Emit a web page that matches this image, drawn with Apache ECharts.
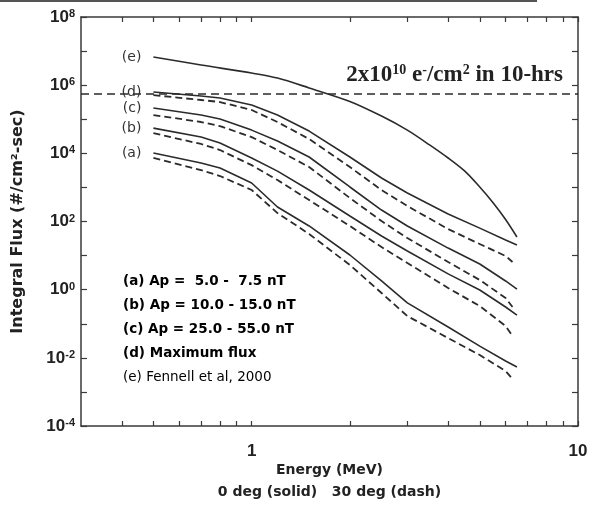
<!DOCTYPE html>
<html>
<head>
<meta charset="utf-8">
<script src="https://cdn.jsdelivr.net/npm/echarts@6/dist/echarts.min.js"></script>
<style>
  html, body { margin: 0; padding: 0; background: #fff; }
  #chart { width: 589px; height: 509px; }
</style>
</head>
<body>
<div id="chart"></div>
<script>
// Integral electron flux vs energy, log-log.
// Curves (a)-(d): 0 deg pitch angle solid, 30 deg dashed. (e): Fennell et al, 2000.

const energyE = [0.5, 0.7, 1.0, 1.2, 1.5, 2.0, 2.5, 3.0, 3.5, 4.0, 4.5, 5.0, 5.5, 6.0, 6.5];
const fluxE   = [6.7e6, 3.9e6, 2.27e6, 1.62e6, 8.3e5, 3.33e5, 1.24e5, 4.8e4, 1.8e4, 7.3e3, 3.0e3, 1.03e3, 350, 114, 35];

const energySolid = [0.5, 0.7, 0.8, 1.0, 1.2, 1.5, 2.0, 2.5, 3.0, 4.0, 5.0, 6.0, 6.5];
const energyDash  = [0.5, 0.7, 0.8, 1.0, 1.2, 1.5, 2.0, 2.5, 3.0, 4.0, 5.0, 6.0, 6.3];

const fluxDSolid = [6.3e5, 4.8e5, 4.2e5, 2.62e5, 1.33e5, 4.5e4, 7.8e3, 1.89e3, 685, 166, 64, 28.6, 20.4];
const fluxDDash  = [5.1e5, 3.67e5, 3.2e5, 1.87e5, 8.3e4, 2.63e4, 3.96e3, 840, 285, 60, 21.8, 9.7, 6.5];
const fluxCSolid = [2.14e5, 1.33e5, 1.02e5, 4.8e4, 2.3e4, 7.8e3, 1.03e3, 217, 74, 16.6, 5.65, 1.8, 1.04];
const fluxCDash  = [1.33e5, 8.3e4, 6.3e4, 3.0e4, 1.25e4, 3.97e3, 489, 103, 32.7, 6.5, 1.92, 0.57, 0.31];
const fluxBSolid = [5.5e4, 3.0e4, 2.0e4, 7.3e3, 3.0e3, 840, 145, 37.5, 13.6, 2.9, 0.98, 0.31, 0.18];
const fluxBDash  = [3.9e4, 1.88e4, 1.25e4, 4.5e3, 1.65e3, 427, 74, 17.8, 6.05, 1.12, 0.33, 0.086, 0.044];
const fluxASolid = [1.02e4, 5.2e3, 3.7e3, 1.35e3, 266, 74, 10.4, 1.8, 0.41, 0.080, 0.022, 0.0081, 0.0054];
const fluxADash  = [7.3e3, 3.2e3, 2.16e3, 840, 177, 43, 5.3, 0.80, 0.168, 0.038, 0.0121, 0.0041, 0.0024];

// 2x10^10 e-/cm^2 over 10 hours
const thresholdFlux = 5.56e5;

const xTickValues  = [0.4, 0.5, 0.6, 0.7, 0.8, 0.9, 1, 2, 3, 4, 5, 6, 7, 8, 9, 10];
const xLabelValues = [1, 10];
const yTickValues  = [1e-4, 1e-3, 1e-2, 1e-1, 1, 1e1, 1e2, 1e3, 1e4, 1e5, 1e6, 1e7, 1e8];
const yLabelValues = [1e-4, 1e-2, 1, 1e2, 1e4, 1e6, 1e8];

const legendLines = [
  '(a) Ap =  5.0 -  7.5 nT',
  '(b) Ap = 10.0 - 15.0 nT',
  '(c) Ap = 25.0 - 55.0 nT',
  '(d) Maximum flux'
];
const legendSource = '(e) Fennell et al, 2000';

const INK = '#2b2b2b';
const FONT = 'Liberation Sans, Arial, sans-serif';
const WIDE = 'DejaVu Sans, Verdana, sans-serif';
const SERIF = 'Liberation Serif, Times New Roman, serif';

function pairs(xs, ys, tag) {
  return xs.map((x, i) => {
    const item = { value: [x, ys[i]] };
    if (i === 0 && tag) {
      item.label = {
        show: true, formatter: tag, position: 'left', distance: 12,
        color: '#333', fontSize: 14, fontFamily: WIDE
      };
    }
    return item;
  });
}

function curve(name, xs, ys, dashed, tag, smooth) {
  return {
    name: name,
    type: 'line',
    data: pairs(xs, ys, tag),
    symbol: 'circle',
    symbolSize: 0,
    showSymbol: true,
    smooth: smooth || false,
    silent: true,
    animation: false,
    label: { show: false },
    lineStyle: {
      color: INK,
      width: dashed ? 1.8 : 1.6,
      type: dashed ? [7, 4] : 'solid'
    },
    z: dashed ? 2 : 3
  };
}

const chart = echarts.init(document.getElementById('chart'), null, { renderer: 'canvas' });

const axisLineStyle = { color: '#3a3a3a', width: 1.5 };
const tickStyle = { color: '#3a3a3a', width: 1.2 };

const series = [
  curve('e', energyE, fluxE, false, '(e)', 0.3),
  curve('d0', energySolid, fluxDSolid, false, '(d)'),
  curve('d30', energyDash, fluxDDash, true),
  curve('c0', energySolid, fluxCSolid, false, '(c)'),
  curve('c30', energyDash, fluxCDash, true),
  curve('b0', energySolid, fluxBSolid, false, '(b)'),
  curve('b30', energyDash, fluxBDash, true),
  curve('a0', energySolid, fluxASolid, false, '(a)'),
  curve('a30', energyDash, fluxADash, true)
];

series[0].markLine = {
  silent: true,
  symbol: 'none',
  animation: false,
  lineStyle: { color: INK, width: 1.5, type: [8, 5] },
  label: {
    show: true,
    position: 'insideEndTop',
    distance: [15, 7],
    formatter: '{t|2x10}{s|10}{t| e}{s|-}{t|/cm}{s|2}{t| in 10-hrs}',
    rich: {
      t: { fontFamily: SERIF, fontWeight: 'bold', fontSize: 23, color: '#222' },
      s: { fontFamily: SERIF, fontWeight: 'bold', fontSize: 14, color: '#222', verticalAlign: 'top' }
    }
  },
  data: [{ yAxis: thresholdFlux }]
};

chart.setOption({
  backgroundColor: '#ffffff',
  animation: false,
  grid: { left: 81, right: 11, top: 17, bottom: 83, outerBoundsMode: 'none', containLabel: false },
  xAxis: [
    {
      type: 'log', logBase: 10, min: 0.3, max: 10,
      name: 'Energy (MeV)\n0 deg (solid)   30 deg (dash)',
      nameLocation: 'middle', nameGap: 33, nameMoveOverlap: false,
      nameTextStyle: { fontFamily: WIDE, fontSize: 14, fontWeight: 'bold', color: '#222', lineHeight: 22 },
      axisLine: { show: true, lineStyle: axisLineStyle },
      axisTick: { show: true, inside: true, length: 5, customValues: xTickValues, lineStyle: tickStyle },
      minorTick: { show: false },
      axisLabel: {
        show: true, customValues: xLabelValues, margin: 17,
        fontFamily: FONT, fontSize: 17, fontWeight: 'bold', color: '#222',
        formatter: v => String(v)
      },
      splitLine: { show: false }, minorSplitLine: { show: false }
    },
    {
      type: 'log', logBase: 10, min: 0.3, max: 10, position: 'top',
      axisLine: { show: true, lineStyle: axisLineStyle },
      axisTick: { show: true, inside: true, length: 5, customValues: xTickValues, lineStyle: tickStyle },
      axisLabel: { show: false },
      splitLine: { show: false }
    }
  ],
  yAxis: [
    {
      type: 'log', logBase: 10, min: 1e-4, max: 1e8,
      name: 'Integral Flux (#/cm\u00B2-sec)',
      nameLocation: 'middle', nameGap: 55, nameRotate: 90, nameMoveOverlap: false,
      nameTextStyle: { fontFamily: WIDE, fontSize: 16, fontWeight: 'bold', color: '#222' },
      axisLine: { show: true, lineStyle: axisLineStyle },
      axisTick: { show: true, inside: true, length: 6, customValues: yTickValues, lineStyle: tickStyle },
      axisLabel: {
        show: true, customValues: yLabelValues, margin: 6,
        formatter: v => '{b|10}{s|' + Math.round(Math.log10(v)) + '}',
        rich: {
          b: { fontFamily: FONT, fontSize: 17, fontWeight: 'bold', color: '#222' },
          s: { fontFamily: FONT, fontSize: 11, fontWeight: 'bold', color: '#222', verticalAlign: 'top' }
        }
      },
      splitLine: { show: false }, minorSplitLine: { show: false }
    },
    {
      type: 'log', logBase: 10, min: 1e-4, max: 1e8, position: 'right',
      axisLine: { show: true, lineStyle: axisLineStyle },
      axisTick: { show: true, inside: true, length: 6, customValues: yTickValues, lineStyle: tickStyle },
      axisLabel: { show: false },
      splitLine: { show: false }
    }
  ],
  graphic: [
    {
      type: 'rect', left: 0, top: 0, silent: true,
      shape: { width: 537, height: 2 },
      style: { fill: '#555' }
    },
    {
      type: 'text', left: 123, top: 274, silent: true,
      style: {
        text: legendLines.map(s => '{k|' + s + '}').join('\n') + '\n{g|' + legendSource + '}',
        rich: {
          k: { fontFamily: WIDE, fontSize: 13.5, fontWeight: 'bold', color: '#2a2a2a', lineHeight: 24 },
          g: { fontFamily: WIDE, fontSize: 13.5, color: '#666', lineHeight: 24 }
        }
      }
    }
  ],
  series: series
});
</script>
</body>
</html>
